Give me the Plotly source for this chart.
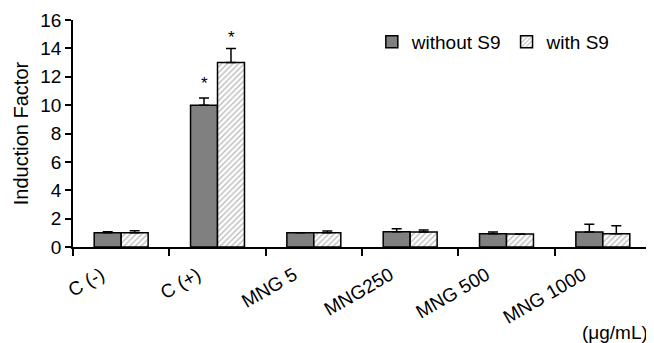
import plotly.graph_objects as go

categories = ["C (-)", "C (+)", "MNG 5", "MNG250", "MNG 500", "MNG 1000"]
without_s9 = [1.0, 10.0, 1.0, 1.08, 0.94, 1.05]
without_s9_err = [0.08, 0.5, 0.0, 0.2, 0.12, 0.56]
with_s9 = [1.0, 13.0, 1.0, 1.05, 0.92, 0.94]
with_s9_err = [0.15, 1.0, 0.12, 0.15, 0.0, 0.56]
star_cat = "C (+)"

FONT = "Liberation Sans, Arial, sans-serif"

fig = go.Figure()
fig.add_trace(go.Bar(
    name="without S9", x=categories, y=without_s9,
    marker=dict(color="#808080", line=dict(color="#000000", width=1.5)),
    error_y=dict(type="data", array=without_s9_err, arrayminus=[0]*6,
                 symmetric=False, color="#000000", thickness=1.5, width=5),
))
fig.add_trace(go.Bar(
    name="with S9", x=categories, y=with_s9,
    marker=dict(color="#ffffff", line=dict(color="#000000", width=1.5),
                pattern=dict(shape="/", fgcolor="#7a7a7a", bgcolor="#ffffff",
                             size=4, solidity=0.35)),
    error_y=dict(type="data", array=with_s9_err, arrayminus=[0]*6,
                 symmetric=False, color="#000000", thickness=1.5, width=5),
))

i = categories.index(star_cat)
fig.add_annotation(x=i, xshift=-13.5, y=without_s9[i] + without_s9_err[i] + 1.0,
                   text="*", showarrow=False, font=dict(size=17, color="#000000", family=FONT))
fig.add_annotation(x=i, xshift=13.5, y=with_s9[i] + with_s9_err[i] + 0.75,
                   text="*", showarrow=False, font=dict(size=17, color="#000000", family=FONT))

fig.add_annotation(xref="paper", yref="paper", x=1.0, y=-0.377, xanchor="right",
                   yanchor="middle", xshift=-2, borderpad=0, text="(μg/mL)", showarrow=False,
                   font=dict(size=19, color="#000", family=FONT))

fig.update_layout(
    width=646, height=335,
    margin=dict(l=65, r=3, t=12, b=96, autoexpand=False),
    paper_bgcolor="#ffffff", plot_bgcolor="#ffffff",
    barmode="group", bargap=0.44, bargroupgap=0,
    font=dict(family=FONT, size=19, color="#000000"),
    showlegend=True,
    legend=dict(orientation="h", x=0.517, y=0.903, xanchor="left", yanchor="middle",
                font=dict(size=19, family=FONT), bgcolor="rgba(0,0,0,0)",
                itemwidth=30, tracegroupgap=0),
    xaxis=dict(showline=True, linecolor="#000", linewidth=1.5,
               ticks="outside", tickson="boundaries", ticklen=7, tickcolor="#000",
               tickwidth=1.5, tickangle=-30, tickfont=dict(size=19),
               ticklabelstandoff=8, ticklabelshift=-20,
               showgrid=False, zeroline=False, automargin=False),
    yaxis=dict(range=[0, 16], dtick=2, showline=True, linecolor="#000", linewidth=1.5,
               ticks="outside", ticklen=6, tickcolor="#000", tickwidth=1.5,
               showgrid=False, zeroline=False, tickfont=dict(size=19), automargin=False,
               title=dict(text="Induction Factor", font=dict(size=20), standoff=6)),
)

fig.write_html("out.html")
